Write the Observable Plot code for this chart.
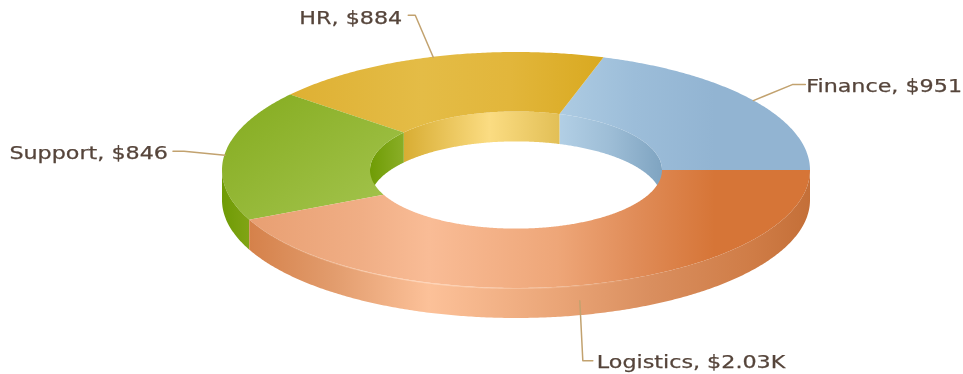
<!DOCTYPE html>
<html>
<head>
<meta charset="utf-8">
<script src="https://cdn.jsdelivr.net/npm/d3@7"></script>
<script src="https://cdn.jsdelivr.net/npm/@observablehq/plot@0.6"></script>
<style>html,body{margin:0;padding:0;background:#fff}svg{display:block;filter:blur(.4px)}</style>
</head>
<body>
<div id="chart"></div>
<script>
const categories = ["Finance", "HR", "Support", "Logistics"];
const values = [951, 884, 846, 2030];

// layout of the tilted ring, in picture units
const W = 963, H = 374, cx = 516, cy = 170, rx = 294, ry = 118, irx = 146, iry = 58.6, depth = 30;
const textStretch = 1.27;
const leaderBend = {Finance: [39, -16, 13], HR: [-18, -42, -7], Support: [-41, -4, -11], Logistics: [3, 60, 10]};
const labelNudge = {Finance: [1, 2], HR: [-6, 3], Support: [-5, 2], Logistics: [4, 2]};
const labelAnchor = {Finance: "start", HR: "end", Support: "end", Logistics: "start"};

const stops = (list) => list.map(([o, c, a = 1]) => `<stop offset="${o}" stop-color="${c}" stop-opacity="${a}"/>`).join("");
const grad = (id, list, x2 = 1, y2 = 0) =>
  `<linearGradient id="${id}" x1="0" y1="0" x2="${x2}" y2="${y2}">${stops(list)}</linearGradient>`;
const defsHtml = [
  grad("top-Finance", [[0, "#adcbe2"], [.3, "#9cbdd9"], [.62, "#92b4d2"], [1, "#92b4d2"]]),
  grad("top-HR", [[0, "#deb033"], [.42, "#e4bc46"], [.7, "#e2b63b"], [1, "#d9a920"]]),
  grad("top-Support", [[0, "#84ab1e"], [1, "#a5c550"]], 1, 1),
  grad("top-Logistics", [[0, "#e89f72"], [.2, "#f0ae85"], [.32, "#f9bc96"], [.55, "#eea678"], [.69, "#e08c58"], [.83, "#d67537"], [1, "#d67537"]]),
  grad("in-Finance", [[0, "#b2cfe5"], [.5, "#9dbdd6"], [1, "#7fa4c1"]]),
  grad("in-HR", [[0, "#d8ad33"], [.55, "#fbdc82"], [1, "#e2bf56"]]),
  grad("in-Support", [[0, "#6f9c05"], [1, "#8aae27"]]),
  grad("out-Support", [[0, "#6f9b05"], [1, "#80a415"]]),
  grad("out-Logistics", [[0, "#d5814a"], [.15, "#e29c6d"], [.32, "#fcc199"], [.55, "#eaa577"], [.72, "#d98e5e"], [.9, "#cf7c46"], [1, "#c46f38"]]),
  grad("rim-Logistics", [[0, "#ffd9bf", 0], [.3, "#ffd9bf", .8], [.5, "#ffd9bf", .35], [.7, "#ffd9bf", 0], [1, "#ffd9bf", 0]])
].join("");

const total = d3.sum(values);
let run = 0;
const slices = categories.map((name, i) => {
  const a0 = run / total * 360;
  run += values[i];
  const a1 = run / total * 360;
  return {name, value: values[i], a0, a1, mid: (a0 + a1) / 2};
});
const rad = (a) => a * Math.PI / 180;
const px = (r, a) => cx + r * Math.cos(rad(a));
const py = (r, a) => cy - r * Math.sin(rad(a));
const sweep = (a0, a1) => {
  const n = Math.max(2, Math.ceil((a1 - a0) * 2));
  return d3.range(n + 1).map((i) => a0 + (a1 - a0) * i / n);
};

const money = (v) => v >= 1000 ? `$${(v / 1000).toFixed(2)}K` : `$${v}`;

const marks = [() => {
  const d = document.createElementNS("http://www.w3.org/2000/svg", "defs");
  d.innerHTML = defsHtml;
  return d;
}];

// back wall of the hole
for (const s of slices) {
  const a0 = Math.max(s.a0, 0), a1 = Math.min(s.a1, 180);
  if (a1 <= a0) continue;
  marks.push(Plot.area(sweep(a0, a1), {
    x1: (a) => px(irx, a), y1: (a) => py(iry, a),
    x2: (a) => px(irx, a), y2: (a) => py(iry, a) + depth,
    fill: `url(#in-${s.name})`
  }));
}
// top faces
for (const s of slices) {
  marks.push(Plot.area(sweep(s.a0, s.a1), {
    x1: (a) => px(rx, a), y1: (a) => py(ry, a),
    x2: (a) => px(irx, a), y2: (a) => py(iry, a),
    fill: `url(#top-${s.name})`
  }));
}
// front outer wall
for (const s of slices) {
  const a0 = Math.max(s.a0, 180), a1 = Math.min(s.a1, 360);
  if (a1 <= a0) continue;
  marks.push(Plot.area(sweep(a0, a1), {
    x1: (a) => px(rx, a), y1: (a) => py(ry, a),
    x2: (a) => px(rx, a), y2: (a) => py(ry, a) + depth,
    fill: `url(#out-${s.name})`
  }));
}
// pale highlight along the front rim
const front = slices.find((s) => s.name === "Logistics");
marks.push(Plot.line(sweep(front.a0, front.a1), {
  x: (a) => px(rx, a), y: (a) => py(ry, a),
  stroke: "url(#rim-Logistics)", strokeWidth: 1.2
}));
// leaders and labels
const leaders = slices.flatMap((s) => {
  const [dx, dy, tail] = leaderBend[s.name];
  const ax = px(rx, s.mid), ay = py(ry, s.mid) + (s.mid > 180 && s.mid < 360 ? depth / 2 : 0);
  return [
    {name: s.name, x: ax, y: ay},
    {name: s.name, x: ax + dx, y: ay + dy},
    {name: s.name, x: ax + dx + tail, y: ay + dy}
  ];
});
marks.push(Plot.line(leaders, {x: "x", y: "y", z: "name", stroke: "#c2a26f", strokeWidth: 1.5, curve: "linear"}));
for (const s of slices) {
  const end = leaders.filter((l) => l.name === s.name)[2];
  const [nx, ny] = labelNudge[s.name];
  marks.push(Plot.text([s], {
    x: () => end.x + nx,
    y: () => end.y + ny,
    text: (d) => `${d.name}, ${money(d.value)}`,
    textAnchor: labelAnchor[s.name],
    fill: "#55443a",
    stroke: "#55443a",
    strokeWidth: 0.25,
    fontSize: 17.5,
    fontFamily: "DejaVu Sans"
  }));
}

const chart = Plot.plot({
  width: W, height: H, margin: 0,
  style: {background: "#fff"},
  x: {domain: [0, W], range: [0, W], axis: null},
  y: {domain: [0, H], range: [0, H], axis: null},
  marks
});
document.getElementById("chart").append(chart);
// the reference's labels are set wide: stretch the real text glyphs to suit
chart.querySelectorAll("text").forEach((t) => {
  t.setAttribute("textLength", (t.getComputedTextLength() * textStretch).toFixed(1));
  t.setAttribute("lengthAdjust", "spacingAndGlyphs");
});
</script>
</body>
</html>
